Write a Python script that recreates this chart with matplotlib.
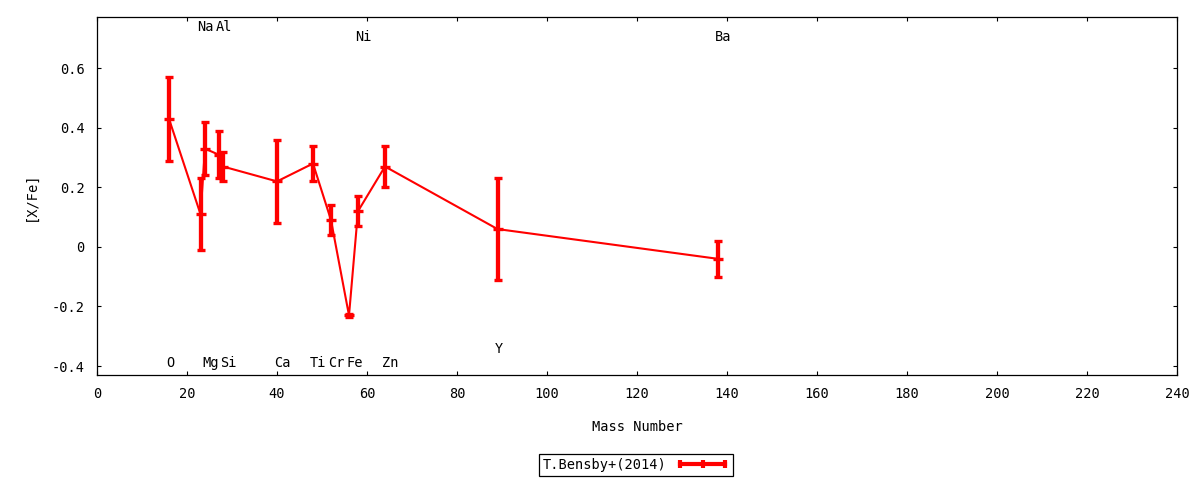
import numpy as np
import matplotlib
matplotlib.use("Agg")
import matplotlib.pyplot as plt
from matplotlib.lines import Line2D
from matplotlib.ticker import FixedLocator, FuncFormatter

# --- datos --- #
elementos = ["O", "Na", "Mg", "Al", "Si", "Ca", "Ti", "Cr", "Fe", "Ni", "Zn", "Y", "Ba"]
masa = [16, 23, 24, 27, 28, 40, 48, 52, 56, 58, 64, 89, 138]
x_fe = [0.43, 0.11, 0.33, 0.31, 0.27, 0.22, 0.28, 0.09, -0.23, 0.12, 0.27, 0.06, -0.04]
error = [0.14, 0.12, 0.09, 0.08, 0.05, 0.14, 0.06, 0.05, 0.005, 0.05, 0.07, 0.17, 0.06]
etiqueta_serie = "T.Bensby+(2014)"

# altura de cada etiqueta de elemento (coordenadas de datos)
altura_etiqueta = {"O": -0.39, "Na": 0.738, "Mg": -0.39, "Al": 0.738, "Si": -0.39,
                   "Ca": -0.39, "Ti": -0.39, "Cr": -0.39, "Fe": -0.39, "Ni": 0.704,
                   "Zn": -0.39, "Y": -0.343, "Ba": 0.704}

x_ticks = list(range(0, 241, 20))
y_ticks = [-0.4, -0.2, 0, 0.2, 0.4, 0.6]

# --- estilo --- #
plt.rcParams["font.family"] = ["DejaVu Sans Mono"]
plt.rcParams["font.size"] = 9.8
plt.rcParams["axes.unicode_minus"] = False
color = "red"

fig = plt.figure(figsize=(12, 4.8), dpi=100)
ax = fig.add_axes([97 / 1200, 1 - 375 / 480, 1080 / 1200, 358 / 480])

ax.errorbar(masa, x_fe, yerr=error, fmt="-", color=color, lw=1.5,
            elinewidth=3.1, capsize=2.9, capthick=2.4,
            marker="_", ms=7.5, mew=2.4)

for el, m in zip(elementos, masa):
    ax.annotate(el, (m, altura_etiqueta[el]), xytext=(-3, 0),
                textcoords="offset pixels", ha="left", va="center")

ax.set_xlim(0, 240)
ax.set_ylim(-0.43, 0.772)
ax.xaxis.set_major_locator(FixedLocator(x_ticks))
ax.yaxis.set_major_locator(FixedLocator(y_ticks))
ax.yaxis.set_major_formatter(FuncFormatter(lambda v, p: "0" if abs(v) < 1e-9 else f"{v:.1f}"))
ax.tick_params(direction="in", length=3, width=0.8, top=True, right=True, pad=9)
for s in ax.spines.values():
    s.set_linewidth(0.9)

ax.set_xlabel("Mass Number", labelpad=13)
ax.set_ylabel("[X/Fe]", labelpad=10)

handle = Line2D([], [], color=color, lw=3.0, marker="|", ms=6, mew=3.0)
leg = fig.legend([handle], [etiqueta_serie], loc="center",
                 bbox_to_anchor=(636 / 1200, 1 - 465 / 480), bbox_transform=fig.transFigure,
                 markerfirst=False, numpoints=3, handlelength=3.9, handletextpad=0.7,
                 fancybox=False, framealpha=1, edgecolor="black", borderpad=0.3,
                 borderaxespad=0)
leg.get_frame().set_linewidth(0.9)

fig.savefig("out.png", dpi=100)
